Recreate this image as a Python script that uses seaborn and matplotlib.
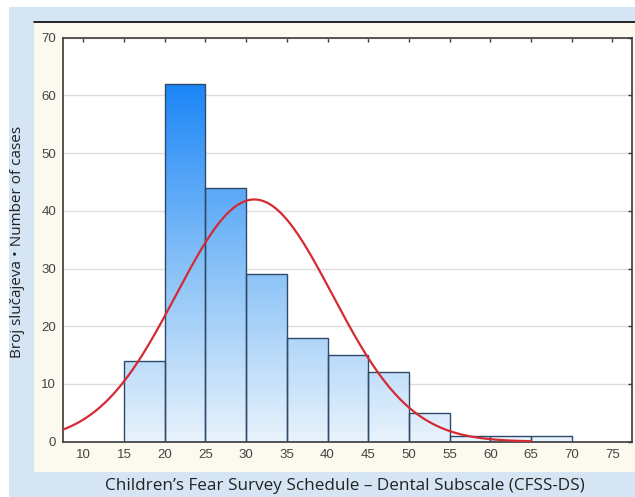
import numpy as np
import pandas as pd
import matplotlib
matplotlib.use("Agg")
import matplotlib.pyplot as plt
from matplotlib.colors import LinearSegmentedColormap
from matplotlib.patches import Rectangle
import seaborn as sns

# histogram data (CFSS-DS scores, bins of 5)
bin_edges = [15, 20, 25, 30, 35, 40, 45, 50, 55, 60, 65, 70]
counts = [14, 62, 44, 29, 18, 15, 12, 5, 1, 1, 1]
x_ticks = [10, 15, 20, 25, 30, 35, 40, 45, 50, 55, 60, 65, 70, 75]
y_ticks = [0, 10, 20, 30, 40, 50, 60, 70]

# parameters of the fitted normal curve
fit_mean = 31.0
fit_sd = 9.6

mids = [(a + b) / 2 for a, b in zip(bin_edges[:-1], bin_edges[1:])]
df = pd.DataFrame({"score": mids, "n": counts})
n_total = sum(counts)
bw = 5

sns.set_style("white")
plt.rcParams["font.family"] = ["Liberation Sans", "DejaVu Sans"]

fig = plt.figure(figsize=(6.35, 4.97), dpi=100)
W, H = 635, 497
# light blue frame and cream panel
fig.patches.append(Rectangle((9 / W, 0), 1, 1 - 7 / H, transform=fig.transFigure,
                             facecolor="#d5e5f3", edgecolor="none", zorder=-3))
fig.patches.append(Rectangle((34 / W, 1 - 472 / H), 1, (472 - 22) / H, transform=fig.transFigure,
                             facecolor="#fcf9ee", edgecolor="none", zorder=-2))
fig.lines.append(plt.Line2D([34 / W, 1], [1 - 22 / H, 1 - 22 / H], transform=fig.transFigure,
                            color="black", lw=1.2))

ax = fig.add_axes([63 / W, 1 - 441.7 / H, (632 - 63) / W, (441.7 - 37.7) / H])
ax.set_facecolor("white")

sns.histplot(data=df, x="score", weights="n", bins=bin_edges, ax=ax,
             stat="count", facecolor="none", edgecolor="#2e4a68", linewidth=1.0,
             alpha=1, zorder=3)

xmin, xmax = 7.5, 77.4
ymax = 70
cmap = LinearSegmentedColormap.from_list("bars", ["#e9f3fc", "#86c0f7", "#1c86f7"])
grad = np.linspace(0, 1, 256).reshape(-1, 1)
for p in ax.patches:
    im = ax.imshow(grad, cmap=cmap, origin="lower", aspect="auto",
                   extent=[xmin, xmax, 0, 62], zorder=2)
    im.set_clip_path(p)

xs = np.linspace(xmin, 65, 300)
fit = n_total * bw / (fit_sd * np.sqrt(2 * np.pi)) * np.exp(-0.5 * ((xs - fit_mean) / fit_sd) ** 2)
sns.lineplot(x=xs, y=fit, ax=ax, color="#d42a35", linewidth=1.6, zorder=4)

ax.set_xlim(xmin, xmax)
ax.set_ylim(0, ymax)
ax.set_xticks(x_ticks)
ax.set_yticks(y_ticks)
ax.yaxis.grid(True, color="#dddddd", linewidth=1.0, zorder=0)
ax.set_axisbelow(True)
for s in ax.spines.values():
    s.set_visible(True)
    s.set_color("#3a3a3a")
    s.set_linewidth(1.2)
ax.tick_params(direction="in", length=3, width=1, color="#3a3a3a",
               top=True, right=True, labelsize=9.5, labelcolor="#444444", pad=5)
ax.set_xlabel("")
ax.set_ylabel("")

fig.text(345 / W, 1 - 486 / H, "Children\u2019s Fear Survey Schedule \u2013 Dental Subscale (CFSS-DS)",
         ha="center", va="center", fontsize=12.3, family=["Open Sans", "DejaVu Sans"], color="#222222")
fig.text(18 / W, 1 - 242 / H, "Broj slu\u010dajeva \u2022 Number of cases", rotation=90,
         ha="center", va="center", fontsize=11, family=["Open Sans", "DejaVu Sans"], color="#222222")

fig.savefig("out.png", dpi=100)
